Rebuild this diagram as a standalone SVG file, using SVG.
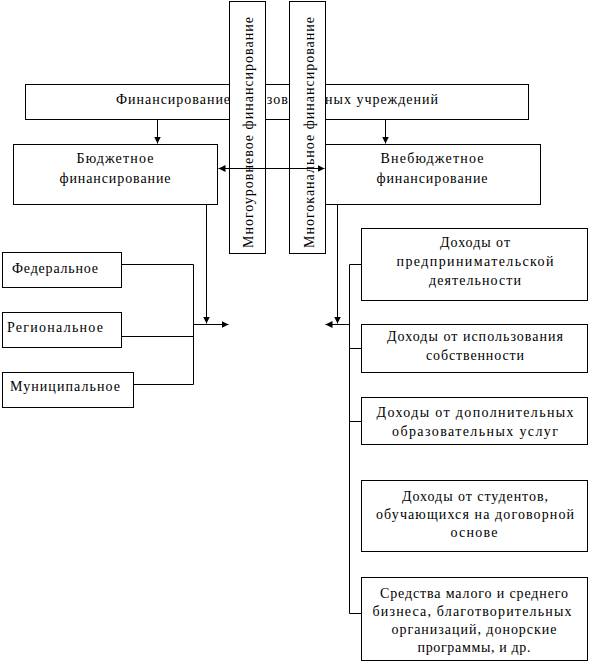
<svg xmlns="http://www.w3.org/2000/svg" width="590" height="662" viewBox="0 0 590 662">
<defs>
<style>
.box{fill:#fff;stroke:#000;stroke-width:1}
.t{font-family:"Liberation Serif","Times New Roman",serif;font-size:14px;fill:#000}
.c{text-anchor:middle}
.ln{fill:none;stroke:#000;stroke-width:1}
</style>
<marker id="ah" markerUnits="userSpaceOnUse" markerWidth="8" markerHeight="8" refX="7" refY="3.5" orient="auto-start-reverse" viewBox="0 0 8 8">
<path d="M0,0 L7,3.5 L0,7 z" fill="#000"/>
</marker>
</defs>
<rect width="590" height="662" fill="#fff"/>

<g id="top">
<rect class="box" x="25.5" y="84.5" width="503" height="35"/>
<text class="t c" x="277" y="104" textLength="322" lengthAdjust="spacing">Финансирование образовательных учреждений</text>
</g>

<g id="budget">
<rect class="box" x="13.5" y="144.5" width="204" height="60"/>
<text class="t c" x="115" y="163" textLength="77" lengthAdjust="spacing">Бюджетное</text>
<text class="t c" x="115" y="183" textLength="111" lengthAdjust="spacing">финансирование</text>
</g>

<g id="extrabudget">
<rect class="box" x="325.5" y="144.5" width="215" height="60"/>
<text class="t c" x="432" y="163" textLength="103" lengthAdjust="spacing">Внебюджетное</text>
<text class="t c" x="432" y="183" textLength="111" lengthAdjust="spacing">финансирование</text>
</g>

<g id="multilevel">
<rect class="box" x="229.5" y="1.5" width="36" height="252"/>
<text class="t" transform="translate(253,248) rotate(-90)" x="0" y="0" textLength="231" lengthAdjust="spacing">Многоуровневое финансирование</text>
</g>

<g id="multichannel">
<rect class="box" x="289.5" y="1.5" width="36" height="252"/>
<text class="t" transform="translate(314,248) rotate(-90)" x="0" y="0" textLength="231" lengthAdjust="spacing">Многоканальное финансирование</text>
</g>

<g id="federal">
<rect class="box" x="2.5" y="252.5" width="119" height="35"/>
<text class="t" x="12" y="273" textLength="86" lengthAdjust="spacing">Федеральное</text>
</g>

<g id="regional">
<rect class="box" x="2.5" y="312.5" width="119" height="35"/>
<text class="t" x="7" y="332" textLength="96" lengthAdjust="spacing">Региональное</text>
</g>

<g id="municipal">
<rect class="box" x="2.5" y="372.5" width="131" height="35"/>
<text class="t" x="10" y="391" textLength="110" lengthAdjust="spacing">Муниципальное</text>
</g>

<g id="income1">
<rect class="box" x="361.5" y="228.5" width="226" height="72"/>
<text class="t c" x="475" y="247" textLength="70" lengthAdjust="spacing">Доходы от</text>
<text class="t c" x="475" y="266" textLength="157" lengthAdjust="spacing">предпринимательской</text>
<text class="t c" x="475" y="285" textLength="92" lengthAdjust="spacing">деятельности</text>
</g>

<g id="income2">
<rect class="box" x="361.5" y="324.5" width="226" height="48"/>
<text class="t c" x="475" y="341" textLength="176" lengthAdjust="spacing">Доходы от использования</text>
<text class="t c" x="475" y="360" textLength="98" lengthAdjust="spacing">собственности</text>
</g>

<g id="income3">
<rect class="box" x="361.5" y="397.5" width="226" height="47"/>
<text class="t c" x="475" y="417" textLength="197" lengthAdjust="spacing">Доходы от дополнительных</text>
<text class="t c" x="475" y="436" textLength="166" lengthAdjust="spacing">образовательных услуг</text>
</g>

<g id="income4">
<rect class="box" x="361.5" y="480.5" width="226" height="71"/>
<text class="t c" x="475" y="501" textLength="146" lengthAdjust="spacing">Доходы от студентов,</text>
<text class="t c" x="475" y="519" textLength="198" lengthAdjust="spacing">обучающихся на договорной</text>
<text class="t c" x="474" y="537" textLength="47" lengthAdjust="spacing">основе</text>
</g>

<g id="income5">
<rect class="box" x="361.5" y="577.5" width="226" height="83"/>
<text class="t c" x="474" y="598" textLength="188" lengthAdjust="spacing">Средства малого и среднего</text>
<text class="t c" x="472" y="616" textLength="199" lengthAdjust="spacing">бизнеса, благотворительных</text>
<text class="t c" x="474" y="634" textLength="165" lengthAdjust="spacing">организаций, донорские</text>
<text class="t c" x="474" y="652" textLength="113" lengthAdjust="spacing">программы, и др.</text>
</g>

<g id="connectors">
<path class="ln" d="M157.5,120 V143.5" marker-end="url(#ah)"/>
<path class="ln" d="M385.5,120 V143.5" marker-end="url(#ah)"/>
<path class="ln" d="M218.5,168.5 H324.5" marker-start="url(#ah)" marker-end="url(#ah)"/>
<path class="ln" d="M206.5,204.5 V323.5" marker-end="url(#ah)"/>
<path class="ln" d="M337.5,204.5 V323.5" marker-end="url(#ah)"/>
<path class="ln" d="M122,264.5 H193.5 V384.5 H134"/>
<path class="ln" d="M122,336.5 H193.5"/>
<path class="ln" d="M193.5,324.5 H228.5" marker-end="url(#ah)"/>
<path class="ln" d="M349.5,324.5 H325.5" marker-end="url(#ah)"/>
<path class="ln" d="M361,264.5 H349.5 V613.5 H361"/>
<path class="ln" d="M349.5,348.5 H361"/>
<path class="ln" d="M349.5,421.5 H361"/>
</g>
</svg>
